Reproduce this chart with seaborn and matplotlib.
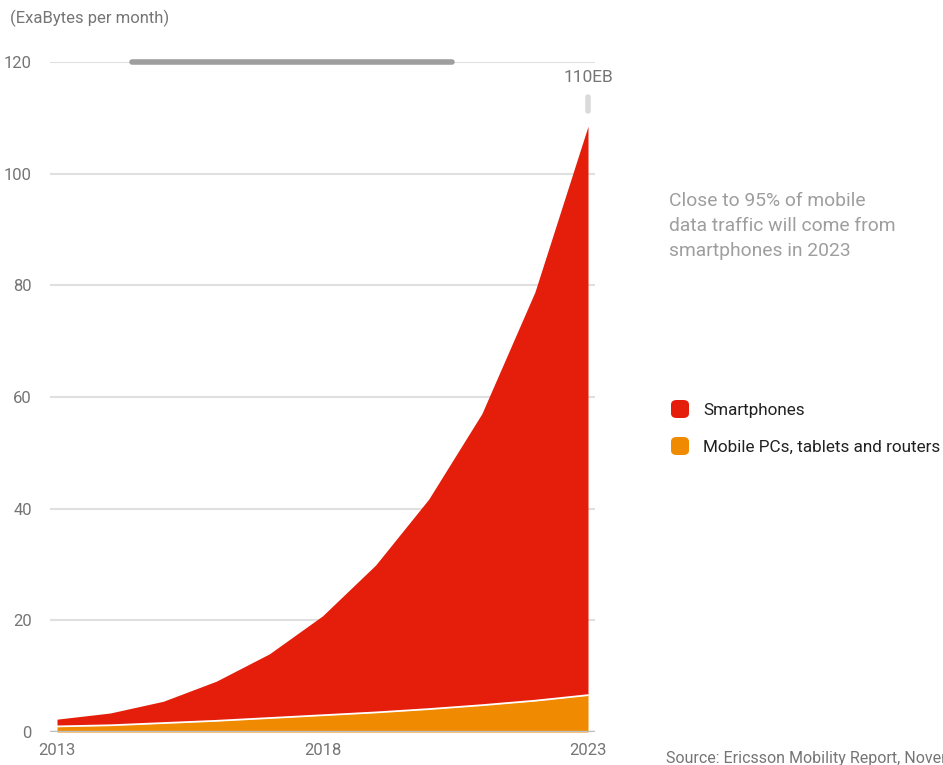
import matplotlib
matplotlib.use("Agg")
import matplotlib.pyplot as plt
import seaborn as sns
import pandas as pd
from matplotlib.patches import FancyBboxPatch

years = [2013, 2014, 2015, 2016, 2017, 2018, 2019, 2020, 2021, 2022, 2023]
mobile_pcs = [1.0, 1.2, 1.6, 2.0, 2.5, 3.0, 3.5, 4.1, 4.8, 5.6, 6.6]
total = [2.3, 3.4, 5.5, 9.1, 14.0, 20.8, 29.9, 41.7, 57.0, 78.8, 108.5]
smartphones = [t - m for t, m in zip(total, mobile_pcs)]
yticks = [0, 20, 40, 60, 80, 100, 120]
xticks = [2013, 2018, 2023]
series_names = ["Smartphones", "Mobile PCs, tablets and routers"]

df = pd.DataFrame({"year": years, "pcs": mobile_pcs, "smart": smartphones})
df["top"] = df["pcs"] + df["smart"]

sns.set_theme(style="white")
plt.rcParams["font.family"] = ["Roboto", "DejaVu Sans"]

RED = "#E41E0A"
ORANGE = "#F08A00"
TXT = "#757575"

fig = plt.figure(figsize=(9.43, 7.65), dpi=100)
ax = fig.add_axes([50 / 943, 33 / 765, 545 / 943, 670 / 765])

ax.fill_between(df["year"], df["pcs"], df["top"], color=RED, linewidth=0, zorder=2)
ax.fill_between(df["year"], 0, df["pcs"], color=ORANGE, linewidth=0, zorder=2)
sns.lineplot(data=df, x="year", y="pcs", color="white", linewidth=1.3, ax=ax, zorder=3)

ax.set_xlim(2013 - 7 / 53.1, 2023 + 7 / 53.1)
ax.set_ylim(0, 120)
ax.set_yticks(yticks)
ax.set_xticks(xticks)
ax.set_xticklabels([str(x) for x in xticks])
ax.set_xlabel("")
ax.set_ylabel("")
for s in ax.spines.values():
    s.set_visible(False)
for y in yticks[1:]:
    ax.axhline(y, color="#E0E0E0", linewidth=1.5, zorder=1)
ax.axhline(0, color="#BDBDBD", linewidth=2.5, zorder=4)
ax.tick_params(axis="both", length=0, labelsize=12, labelcolor=TXT)
ax.tick_params(axis="y", pad=13)
ax.tick_params(axis="x", pad=8)

# decorative bar at top and marker
ax.plot([2014.42, 2020.43], [120, 120], color="#9E9E9E", linewidth=4,
        solid_capstyle="round", zorder=5, clip_on=False)
ax.plot([2023, 2023], [111.2, 113.8], color="#DADADA", linewidth=4,
        solid_capstyle="round", zorder=5, clip_on=False)
ax.text(2023, 117.2, "110EB", ha="center", va="center", fontsize=12.5, color=TXT)

fig.text(10 / 943, 1 - 18 / 765, "(ExaBytes per month)", ha="left", va="center",
         fontsize=12, color=TXT)

fig.text(669 / 943, 1 - 226 / 765,
         "Close to 95% of mobile\ndata traffic will come from\nsmartphones in 2023",
         ha="left", va="center", fontsize=13.9, color="#9E9E9E", linespacing=1.52)

for i, (name, col) in enumerate(zip(series_names, [RED, ORANGE])):
    yc = 409 + i * 37
    box = FancyBboxPatch(((670 + 1) / 943, (765 - yc - 9) / 765), 18 / 943, 18 / 765,
                         boxstyle="round,pad=0,rounding_size=0.006",
                         transform=fig.transFigure, facecolor=col, edgecolor="none")
    fig.patches.append(box)
    fig.text(703 / 943, 1 - (yc + 1) / 765, name, ha="left", va="center",
             fontsize=12.3, color="#212121")

fig.text(666 / 943, 1 - 758 / 765, "Source: Ericsson Mobility Report, November 2017",
         ha="left", va="center", fontsize=11.5, color=TXT)

fig.savefig("out.png", dpi=100)
